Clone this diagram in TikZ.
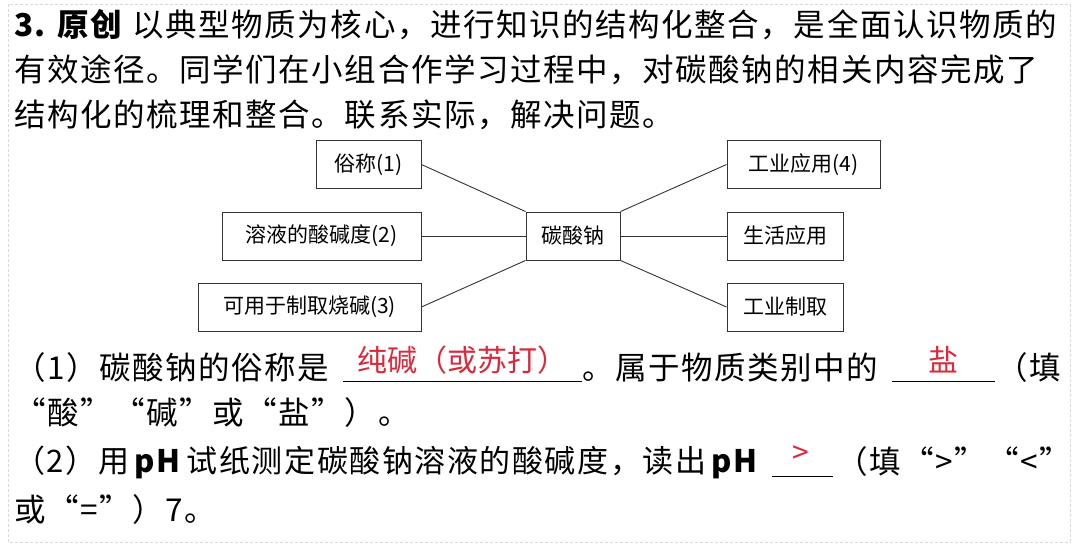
\documentclass[tikz,border=0pt]{standalone}
\usepackage{fontspec}
\setmainfont{Liberation Serif}
\newfontfamily\cjk[LetterSpace=5]{Noto Sans CJK SC}
\newfontfamily\cjkb{Noto Sans CJK SC}
\definecolor{ansred}{RGB}{220,40,60}
\begin{document}
\begin{tikzpicture}[x=1pt,y=-1pt,
  txt/.style={anchor=west,inner sep=0pt,font=\cjk\fontsize{31.5}{34}\selectfont},
  box/.style={draw=black!80,line width=0.9pt,minimum height=48pt,inner sep=0pt,font=\cjkb\fontsize{21}{24}\selectfont},
  ans/.style={inner sep=0pt,text=ansred,font=\cjkb\fontsize{30}{34}\selectfont},
  ln/.style={black!80,line width=0.9pt}]
\useasboundingbox (0,0) rectangle (1080,558);
\draw[black!15,densely dashed,line width=0.6pt] (8,4) rectangle (1070,542);
\node[txt] (l1) at (14,25) {\textbf{3. 原创}\ 以典型物质为核心，进行知识的结构化整合，是全面认识物质的};
\node[txt] (l2) at (14,70) {有效途径。同学们在小组合作学习过程中，对碳酸钠的相关内容完成了};
\node[txt] (l3) at (14,115) {结构化的梳理和整合。联系实际，解决问题。};
\node[box,minimum width=105pt] (a) at (368.5,164.5) {俗称(1)};
\node[box,minimum width=199pt] (b) at (321.5,236) {溶液的酸碱度(2)};
\node[box,minimum width=223pt] (c) at (309.5,307) {可用于制取烧碱(3)};
\node[box,minimum width=94pt] (m) at (573,236) {碳酸钠};
\node[box,minimum width=153pt] (d) at (803.5,164.5) {工业应用(4)};
\node[box,minimum width=116pt] (e) at (785,236) {生活应用};
\node[box,minimum width=116pt] (f) at (785,307) {工业制取};
\draw[ln] (a.east) -- (m.north west);
\draw[ln] (b.east) -- (m.west);
\draw[ln] (c.east) -- (m.south west);
\draw[ln] (d.west) -- (m.north east);
\draw[ln] (e.west) -- (m.east);
\draw[ln] (f.west) -- (m.south east);
\node[txt] (q1) at (14,368) {（1）碳酸钠的俗称是};
\coordinate (u1a) at (343,381); \coordinate (u1b) at (582,381);
\draw[line width=0.8pt] (u1a) -- (u1b);
\node[ans] (a1) at (462,360) {纯碱（或苏打）};
\node[txt] (q1b) at (582,368) {。属于物质类别中的};
\coordinate (u2a) at (892,381); \coordinate (u2b) at (995,381);
\draw[line width=0.8pt] (u2a) -- (u2b);
\node[ans] (a2) at (943,360) {盐};
\node[txt] (q1c) at (996,368) {（填};
\node[txt] (q1d) at (14,413) {“酸”“碱”或“盐”）。};
\node[txt,font=\cjk\fontsize{31}{34}\selectfont] (q2) at (14,462) {（2）用\,\textbf{pH}\,试纸测定碳酸钠溶液的酸碱度，读出\,\textbf{pH}};
\coordinate (u3a) at (772,476); \coordinate (u3b) at (833,476);
\draw[line width=0.8pt] (u3a) -- (u3b);
\node[ans] (a3) at (801,455) {>};
\node[txt] (q2b) at (836,462) {（填“>”“<”};
\node[txt] (q2c) at (14,510) {或“=”）7。};
\end{tikzpicture}
\end{document}
